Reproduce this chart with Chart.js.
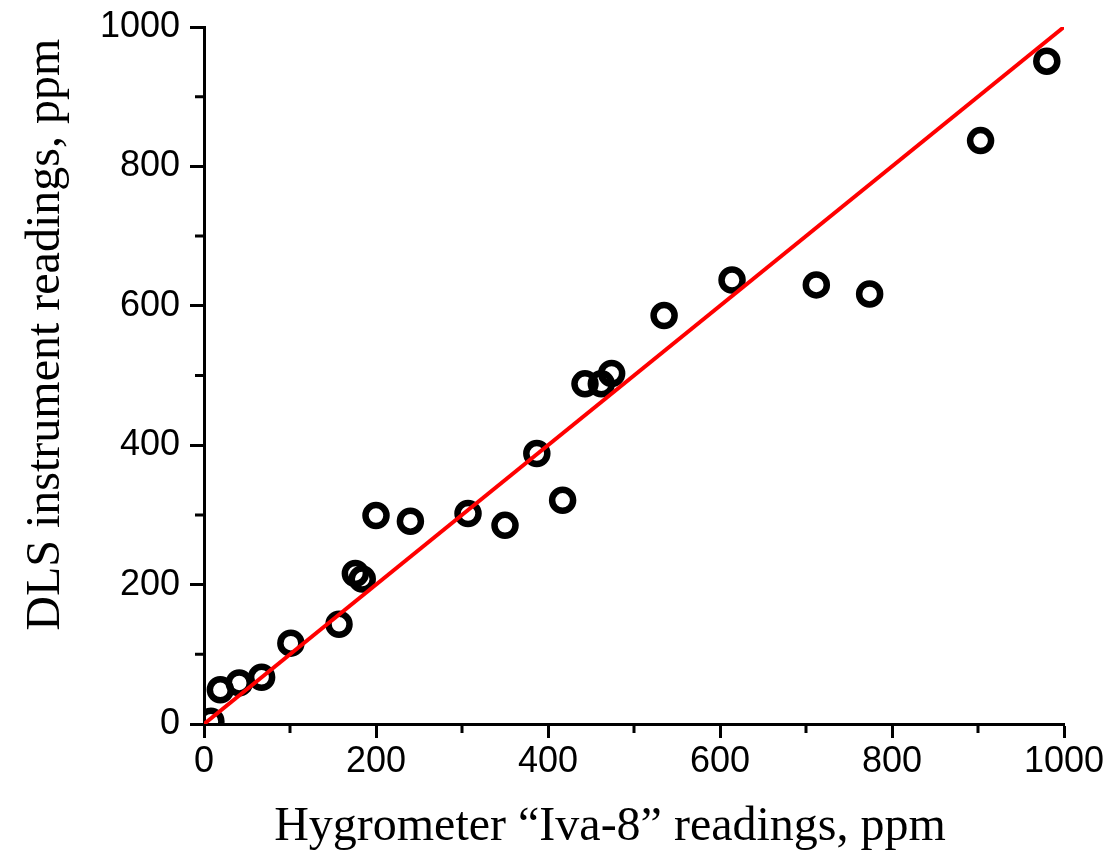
<!DOCTYPE html>
<html>
<head>
<meta charset="utf-8">
<script src="https://cdn.jsdelivr.net/npm/chart.js@4.4.1/dist/chart.umd.min.js"></script>
<style>
  html, body { margin: 0; padding: 0; background: #fff; }
  #wrap { width: 1115px; height: 856px; position: relative; }
</style>
</head>
<body>
<div id="wrap"><canvas id="myChart"></canvas></div>
<script>
// hygrometer readings (x) vs DLS readings (y), ppm
const hygroX = [8, 19, 41, 67, 101, 157, 176, 184, 200, 240, 307, 350, 387, 417, 443, 462, 474, 535, 614, 712, 774, 903, 980];
const dlsY   = [4, 49, 59, 67, 116, 143, 216, 208, 299, 291, 302, 285, 388, 321, 488, 488, 503, 586, 637, 630, 617, 837, 951];
// fitted line end points
const fitX = [0, 1000];
const fitY = [0, 1000];
const minorTicks = [100, 300, 500, 700, 900];

const points = hygroX.map((x, i) => ({x: x, y: dlsY[i]}));
const fitLine = fitX.map((x, i) => ({x: x, y: fitY[i]}));

// chart.js has no minor ticks, draw the short ones through the scales
const minorTickPlugin = {
  id: 'minorTicks',
  afterDraw(chart) {
    const ctx = chart.ctx;
    const xs = chart.scales.x, ys = chart.scales.y;
    ctx.save();
    ctx.strokeStyle = '#000';
    ctx.lineWidth = 3;
    ctx.beginPath();
    minorTicks.forEach(v => {
      const px = xs.getPixelForValue(v);
      ctx.moveTo(px, xs.top);
      ctx.lineTo(px, xs.top + 9);
      const py = ys.getPixelForValue(v);
      ctx.moveTo(ys.right, py);
      ctx.lineTo(ys.right - 9, py);
    });
    ctx.stroke();
    ctx.restore();
  }
};

const tickFont = {family: "'Liberation Sans', Arial, sans-serif", size: 36};
const titleFont = {family: "'Liberation Serif', 'Times New Roman', serif", size: 48};

// titles in the original sit a bit off centre, the em spaces push them over
const xTitle = 'Hygrometer \u201cIva-8\u201d readings, ppm\u2003';
const yTitle = '\u2003\u2002\u2009DLS instrument readings, ppm';

new Chart(document.getElementById('myChart').getContext('2d'), {
  type: 'scatter',
  data: {
    datasets: [
      {
        data: fitLine,
        showLine: true,
        borderColor: '#ff0000',
        borderWidth: 4,
        pointRadius: 0,
        fill: false
      },
      {
        data: points,
        pointStyle: 'circle',
        pointRadius: 10.5,
        pointBorderWidth: 6.5,
        pointBorderColor: '#000',
        pointBackgroundColor: 'rgba(0,0,0,0)'
      }
    ]
  },
  options: {
    responsive: true,
    maintainAspectRatio: false,
    animation: false,
    layout: {padding: {top: 27, right: 51, bottom: 0, left: 0}},
    plugins: {
      legend: {display: false},
      tooltip: {enabled: false}
    },
    scales: {
      x: {
        type: 'linear',
        min: 0,
        max: 1000,
        afterFit: s => { s.height = 132; },
        border: {display: true, color: '#000', width: 3},
        grid: {drawOnChartArea: false, tickLength: 14, tickWidth: 3, tickColor: '#000'},
        ticks: {stepSize: 200, color: '#000', font: tickFont, padding: 2, maxRotation: 0,
                callback: v => String(v)},
        title: {display: true, text: xTitle, color: '#000', font: titleFont, padding: {top: 0, bottom: 0}}
      },
      y: {
        type: 'linear',
        min: 0,
        max: 1000,
        // label overhang would push the top down, layout padding handles it instead
        afterFit: s => { s.width = 204; s.paddingTop = 0; },
        border: {display: true, color: '#000', width: 3},
        grid: {drawOnChartArea: false, tickLength: 14, tickWidth: 3, tickColor: '#000'},
        ticks: {stepSize: 200, color: '#000', font: tickFont, padding: 10,
                callback: v => String(v)},
        title: {display: true, text: yTitle, color: '#000', font: titleFont, padding: {top: 18, bottom: 0}}
      }
    }
  },
  plugins: [minorTickPlugin]
});
</script>
</body>
</html>
